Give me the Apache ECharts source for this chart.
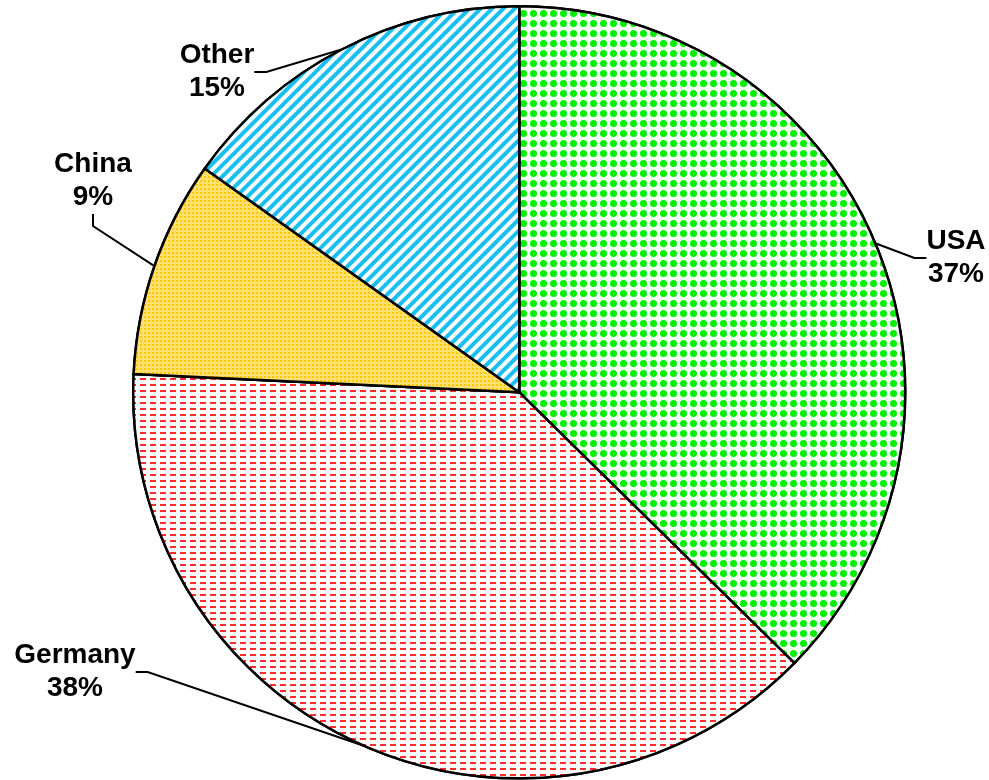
<!DOCTYPE html>
<html>
<head>
<meta charset="utf-8">
<script src="https://cdn.jsdelivr.net/npm/echarts@6/dist/echarts.min.js"></script>
<style>
html,body{margin:0;padding:0;background:#fff;}
#chart{width:989px;height:780px;}
</style>
</head>
<body>
<div id="chart"></div>
<script>
const countries = ['USA', 'Germany', 'China', 'Other'];
const shares = [37, 38, 9, 15];

// label block centres (styling only)
const labelPos = [[956, 258], [75, 672], [93, 181], [217, 72]];

const decals = [
  { symbol: 'circle', symbolSize: 1, color: '#00f000', backgroundColor: '#ffffff', dashArrayX: [7, 2.5], dashArrayY: [7, 2.5] },
  { symbol: 'rect', symbolSize: 1, color: '#ff2a2a', backgroundColor: '#ffffff', dashArrayX: [[6, 3.5]], dashArrayY: [2, 4] },
  { symbol: 'rect', symbolSize: 1, color: '#ffc800', backgroundColor: '#ffe070', dashArrayX: [2, 2], dashArrayY: [2, 2] },
  { symbol: 'rect', symbolSize: 1, color: '#18bff0', backgroundColor: '#ffffff', dashArrayX: [1, 0], dashArrayY: [3.5, 3.5], rotation: -Math.PI / 4 }
];

const chart = echarts.init(document.getElementById('chart'), null, { renderer: 'canvas' });
chart.setOption({
  backgroundColor: '#ffffff',
  animation: false,
  series: [{
    type: 'pie',
    center: ['52.5%', '50.3%'],
    radius: 386,
    startAngle: 90,
    clockwise: true,
    avoidLabelOverlap: false,
    itemStyle: { borderColor: '#000', borderWidth: 2.5 },
    label: {
      show: true,
      position: 'outside',
      formatter: p => p.name + '\n' + p.value + '%',
      fontFamily: 'Liberation Sans, Arial, sans-serif',
      fontWeight: 'bold',
      fontSize: 28,
      lineHeight: 33,
      color: '#000',
      align: 'center'
    },
    labelLine: {
      show: true,
      length: 25,
      length2: 12,
      lineStyle: { color: '#000', width: 2 }
    },
    labelLayout: p => ({
      x: labelPos[p.dataIndex][0],
      y: labelPos[p.dataIndex][1],
      align: 'center',
      verticalAlign: 'middle'
    }),
    data: countries.map((c, i) => ({
      name: c,
      value: shares[i],
      itemStyle: { color: '#ffffff', decal: decals[i] }
    }))
  }]
});
</script>
</body>
</html>
